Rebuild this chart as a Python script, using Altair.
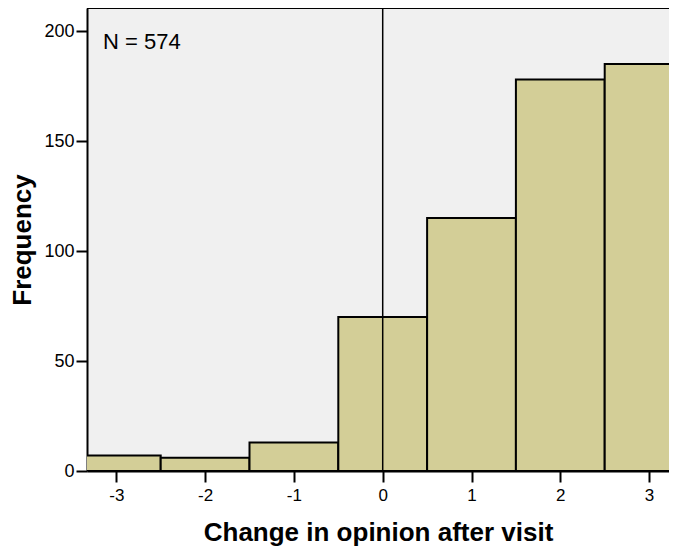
import altair as alt
import pandas as pd

# Data
values = [-3, -2, -1, 0, 1, 2, 3]
counts = [7, 6, 13, 70, 115, 178, 185]
x_ticks = [-3, -2, -1, 0, 1, 2, 3]
y_ticks = [0, 50, 100, 150, 200]
n_label = "N = 574"

df = pd.DataFrame({
    "value": values,
    "count": counts,
    "start": [v - 0.5 for v in values],
    "end": [v + 0.5 for v in values],
})

FONT = "Liberation Sans"
W, H = 582, 463

xscale = alt.Scale(domain=[-3.33, 3.224], nice=False, zero=False)
yscale = alt.Scale(domain=[0, 210.5], nice=False)

bars = alt.Chart(df).mark_bar(
    color="#D3CE97", stroke="black", strokeWidth=2, clip=True
).encode(
    x=alt.X("start:Q", scale=xscale,
            axis=alt.Axis(values=x_ticks, title="Change in opinion after visit",
                          grid=False, domainColor="black", domainWidth=2,
                          tickColor="black", tickWidth=2, tickSize=11,
                          labelFont=FONT, labelFontSize=17, labelColor="black",
                          labelPadding=5, titleFont=FONT, titleFontSize=26,
                          titleFontWeight="bold", titleColor="black",
                          titlePadding=16, labelExpr="'' + datum.value")),
    x2="end:Q",
    y=alt.Y("count:Q", scale=yscale,
            axis=alt.Axis(values=y_ticks, title="Frequency", grid=False,
                          domainColor="black", domainWidth=2,
                          tickColor="black", tickWidth=2, tickSize=11,
                          labelFont=FONT, labelFontSize=18, labelColor="black",
                          labelPadding=2, titleFont=FONT, titleFontSize=26,
                          titleFontWeight="bold", titleColor="black",
                          titlePadding=8)),
    y2=alt.datum(0),
)

rule_df = pd.DataFrame({"x": [0]})
rule = alt.Chart(rule_df).mark_rule(color="black", strokeWidth=1.5).encode(
    x=alt.X("x:Q", scale=xscale),
)

top_border = alt.Chart(rule_df).mark_rule(color="black", strokeWidth=2).encode(
    x=alt.value(0), x2=alt.value(W), y=alt.value(0)
)

label_df = pd.DataFrame({"t": [n_label]})
label = alt.Chart(label_df).mark_text(
    align="left", baseline="middle", font=FONT, fontSize=22, color="black"
).encode(
    text="t:N",
    x=alt.value(16),
    y=alt.value(34),
)

chart = alt.layer(bars, rule, top_border, label).properties(
    width=W,
    height=H,
    autosize="none",
    padding={"left": 79, "top": 0, "right": 0, "bottom": 78},
    background="white",
).configure_view(
    fill="#F0F0F0", strokeWidth=0
)

chart.save("out.html", embed_options={"renderer": "svg", "actions": False})
